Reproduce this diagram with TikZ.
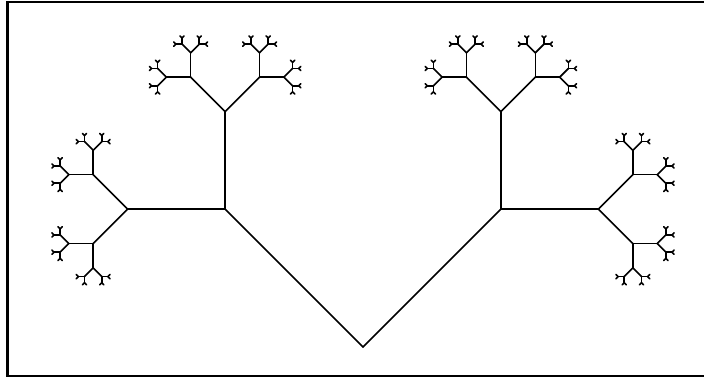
\documentclass[tikz,border=0pt]{standalone}
\usepackage{tikz}

\tikzset{
  treeline/.style={draw=black, line width=0.8pt, line cap=round},
  frameline/.style={draw=black, line width=1.1pt}
}

% one branch, then two half-length children turned by +/-45 degrees
% #1,#2 start point, #3 angle, #4 length, #5 levels left
\newcommand\fractalbranch[5]{%
  \ifnum#5>0
    \pgfmathsetmacro\bx{#1+#4*cos(#3)}%
    \pgfmathsetmacro\by{#2+#4*sin(#3)}%
    \draw[treeline] (#1,#2) -- (\bx,\by);
    \pgfmathsetmacro\anga{#3+45}%
    \pgfmathsetmacro\angb{#3-45}%
    \pgfmathsetmacro\halflen{#4/2}%
    \pgfmathtruncatemacro\levels{#5-1}%
    \edef\nextbranches{%
      {\noexpand\fractalbranch{\bx}{\by}{\anga}{\halflen}{\levels}}%
      {\noexpand\fractalbranch{\bx}{\by}{\angb}{\halflen}{\levels}}}%
    \nextbranches
  \fi}

\begin{document}
\begin{tikzpicture}[x=0.5pt, y=0.5pt]
\useasboundingbox (0,0) rectangle (704,378);
\fill[white] (0,0) rectangle (704,378);

% frame (right side falls outside the picture)
\draw[frameline] (710,376) -- (7.5,376) -- (7.5,2) -- (710,2);

% root of the tree
\coordinate (root) at (363,31);

% the two main arms and everything above them
\fractalbranch{363}{31}{135}{195}{7}
\fractalbranch{363}{31}{45}{195}{7}
\end{tikzpicture}
\end{document}
